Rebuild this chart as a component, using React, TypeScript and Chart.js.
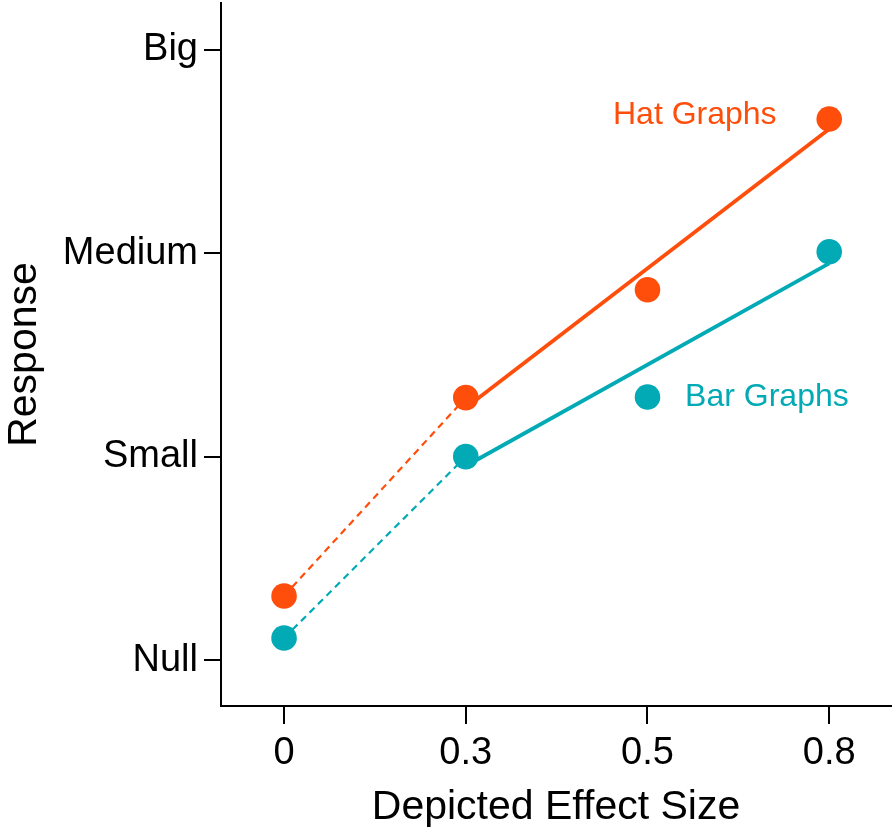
import React, { useEffect, useRef } from "react";
import { Chart, registerables } from "chart.js";

Chart.register(...registerables);

const xTickLabels = ["0", "0.3", "0.5", "0.8"];
const yTickLabels = ["Null", "Small", "Medium", "Big"];
const hatValues = [0.315, 1.29, 1.82, 2.66];
const barValues = [0.108, 1.0, 1.293, 2.007];
const hatFit = [1.24, 2.61];
const barFit = [0.954, 1.95];
const hatLabel = { text: "Hat Graphs", x: 1.81, y: 2.68 };
const barLabel = { text: "Bar Graphs", x: 2.207, y: 1.29 };

const HAT = "#FF4E0B";
const BAR = "#02AAB5";
const FONT = "'Liberation Sans', Arial, sans-serif";

export default function App() {
  const ref = useRef<HTMLCanvasElement | null>(null);
  useEffect(() => {
    if (!ref.current) return;
    const pts = (vals: number[]) => vals.map((v, i) => ({ x: i, y: v }));
    const labelPlugin = {
      id: "seriesLabels",
      afterDatasetsDraw(chart: any) {
        const { ctx, scales } = chart;
        ctx.save();
        ctx.font = `32px ${FONT}`;
        ctx.textAlign = "left";
        ctx.textBaseline = "middle";
        [
          [hatLabel, HAT],
          [barLabel, BAR],
        ].forEach(([l, c]: any) => {
          ctx.fillStyle = c;
          ctx.fillText(l.text, scales.x.getPixelForValue(l.x), scales.y.getPixelForValue(l.y));
        });
        ctx.restore();
      },
    };
    const chart = new Chart(ref.current, {
      type: "scatter",
      data: {
        datasets: [
          { data: pts(hatValues), backgroundColor: HAT, borderColor: HAT, pointRadius: 12.8, pointBorderWidth: 0, showLine: false, order: 0 },
          { data: pts(barValues), backgroundColor: BAR, borderColor: BAR, pointRadius: 12.8, pointBorderWidth: 0, showLine: false, order: 0 },
          { data: [{ x: 0, y: hatValues[0] }, { x: 1, y: hatValues[1] }], borderColor: HAT, borderWidth: 2.2, borderDash: [7, 5], pointRadius: 0, showLine: true, order: 1 },
          { data: [{ x: 0, y: barValues[0] }, { x: 1, y: barValues[1] }], borderColor: BAR, borderWidth: 2.2, borderDash: [7, 5], pointRadius: 0, showLine: true, order: 1 },
          { data: [{ x: 1, y: hatFit[0] }, { x: 3, y: hatFit[1] }], borderColor: HAT, borderWidth: 3.8, pointRadius: 0, showLine: true, order: 1 },
          { data: [{ x: 1, y: barFit[0] }, { x: 3, y: barFit[1] }], borderColor: BAR, borderWidth: 3.8, pointRadius: 0, showLine: true, order: 1 },
        ],
      },
      options: {
        animation: false,
        responsive: false,
        maintainAspectRatio: false,
        layout: { autoPadding: false, padding: { top: 3, right: 3, left: 0, bottom: 0 } },
        plugins: { legend: { display: false }, tooltip: { enabled: false } },
        scales: {
          x: {
            type: "linear",
            min: -0.347,
            max: 3.34,
            afterBuildTicks: (s: any) => { s.ticks = xTickLabels.map((_, i) => ({ value: i })); },
            afterFit: (s: any) => { s.height = 128; s.paddingLeft = 0; s.paddingRight = 0; },
            ticks: { callback: (v: any) => xTickLabels[v] ?? "", color: "#000", font: { family: FONT, size: 38 }, padding: 7, maxRotation: 0 },
            grid: { drawOnChartArea: false, drawTicks: true, tickLength: 18, color: "#000", lineWidth: 2 },
            border: { display: true, color: "#000", width: 2 },
            title: { display: true, text: "Depicted Effect Size", color: "#000", font: { family: FONT, size: 41 }, padding: { top: 0, bottom: 2 } },
          },
          y: {
            type: "linear",
            min: -0.226,
            max: 3.23,
            afterBuildTicks: (s: any) => { s.ticks = yTickLabels.map((_, i) => ({ value: i })); },
            afterFit: (s: any) => { s.width = 221; s.paddingTop = 0; s.paddingBottom = 0; },
            ticks: { callback: (v: any) => yTickLabels[v] ?? "", color: "#000", font: { family: FONT, size: 38 }, padding: 6 },
            grid: { drawOnChartArea: false, drawTicks: true, tickLength: 17, color: "#000", lineWidth: 2 },
            border: { display: true, color: "#000", width: 2 },
            title: { display: true, text: "Response", color: "#000", font: { family: FONT, size: 41 }, padding: { top: 0, bottom: 0 } },
          },
        },
      },
      plugins: [labelPlugin],
    } as any);
    return () => chart.destroy();
  }, []);
  return (
    <div style={{ position: "fixed", left: 0, top: 0, width: 894, height: 834, background: "#fff" }}>
      <canvas ref={ref} width={894} height={834} style={{ width: 894, height: 834, display: "block" }} />
    </div>
  );
}
